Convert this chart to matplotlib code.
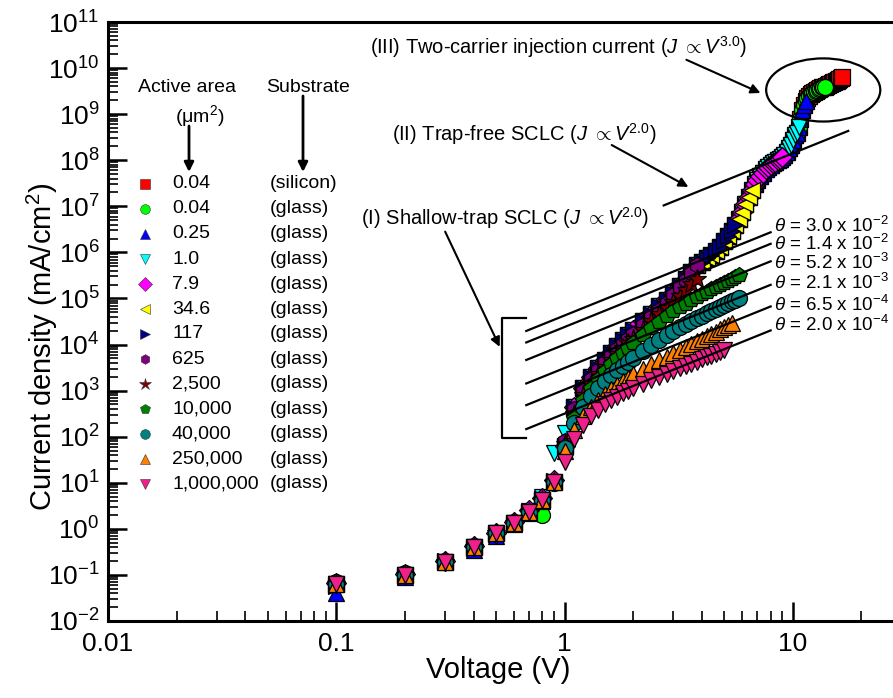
import numpy as np
import matplotlib
matplotlib.use("Agg")
import matplotlib.pyplot as plt
from matplotlib.patches import Ellipse
from matplotlib.ticker import LogLocator, FuncFormatter, NullFormatter

plt.rcParams['font.family'] = ['Liberation Sans', 'DejaVu Sans']
plt.rcParams['mathtext.fontset'] = 'custom'
plt.rcParams['mathtext.rm'] = 'Liberation Sans'
plt.rcParams['mathtext.it'] = 'Liberation Sans:italic'
plt.rcParams['mathtext.bf'] = 'Liberation Sans:bold'

# ---------------- data ----------------
V_grid = [0.1, 0.2, 0.3, 0.4, 0.5, 0.6, 0.7, 0.8, 0.9, 1.0,
          1.1, 1.2, 1.3, 1.4, 1.5, 1.6, 1.7, 1.8, 1.9, 2.0,
          2.2, 2.4, 2.6, 2.8, 3.0, 3.2, 3.4, 3.6, 3.8, 4.0,
          4.2, 4.4, 4.6, 4.8, 5.0, 5.2, 5.4, 5.6, 5.8, 6.0,
          6.2, 6.4, 6.6, 6.8, 7.0, 7.2, 7.4, 7.6, 7.8, 8.0,
          8.2, 8.4, 8.6, 8.8, 9.0, 9.2, 9.4, 9.6, 9.8, 10.0,
          10.2, 10.4, 10.6, 10.8, 11.0, 11.2, 11.4, 11.6, 11.8, 12.0,
          12.2, 12.4, 12.6, 12.8, 13.0, 13.2, 13.4, 13.6, 13.8, 14.0,
          14.2, 14.4, 14.6, 14.8, 15.0, 15.2, 15.4, 15.6, 15.8, 16.0,
          16.2, 16.4]

# log10(J) of the common upper branch from 1.1 V upward (small-area devices overlap here)
logJ_envelope = [2.65, 3.05, 3.3, 3.5, 3.67, 3.82, 3.96, 4.09, 4.2, 4.31,
                 4.5, 4.67, 4.83, 4.97, 5.12, 5.28, 5.43, 5.58, 5.72, 5.8,
                 5.87, 5.94, 6.02, 6.12, 6.24, 6.36, 6.47, 6.59, 6.72, 6.88,
                 7.05, 7.2, 7.35, 7.48, 7.58, 7.66, 7.73, 7.8, 7.85, 7.9,
                 7.94, 7.97, 8.0, 8.03, 8.06, 8.12, 8.18, 8.26, 8.34, 8.44,
                 8.55, 8.6, 8.72, 8.9, 9.1, 9.2, 9.28, 9.34, 9.39, 9.43,
                 9.46, 9.49, 9.51, 9.53, 9.55, 9.57, 9.58, 9.59, 9.6, 9.62,
                 9.63, 9.65, 9.66, 9.67, 9.69, 9.7, 9.72, 9.73, 9.75, 9.76,
                 9.78, 9.8]

# small-area devices: values 0.1-1.0 V, then the common branch up to V_max
low_red = [-1.2, -1.0, -0.72, -0.4, -0.1, 0.12, 0.36, 0.62, 1.02, 1.8]
low_green = [-1.15, -0.95, -0.7, -0.38, -0.08, 0.15, 0.38, 0.3, 1.0, 1.75]
low_blue = [-1.4, -1.05, -0.68, -0.45, -0.15, 0.1, 0.34, 0.6, 1.05, 1.85]
low_cyan = [-1.2, -1.0, -0.72, -0.4, -0.1, 0.12, 0.38, 0.7, 1.65, 2.08]
low_magenta = [-1.18, -0.98, -0.7, -0.38, -0.08, 0.14, 0.4, 0.66, 1.05, 1.8]
low_yellow = [-1.2, -1.0, -0.72, -0.4, -0.1, 0.12, 0.36, 0.62, 1.02, 1.8]
low_navy = [-1.25, -1.02, -0.7, -0.42, -0.12, 0.1, 0.36, 0.64, 1.04, 1.8]
vmax_small = [16.4, 13.8, 11.4, 10.6, 9.0, 6.6, 5.6]

# large-area devices: shared 0.1-0.9 V values, then own values from 1.0 V
low_large = [-1.2, -1.0, -0.72, -0.4, -0.1, 0.12, 0.36, 0.62, 1.02]
high_purple = [1.9, 2.6, 3.0, 3.25, 3.45, 3.62, 3.77, 3.9, 4.02, 4.13, 4.23,
               4.42, 4.6, 4.76, 4.91, 5.08, 5.25, 5.4, 5.55, 5.72]
high_star = [1.85, 2.5, 2.9, 3.15, 3.35, 3.52, 3.67, 3.8, 3.92, 4.03, 4.13,
             4.32, 4.5, 4.66, 4.8, 4.93, 5.06, 5.19, 5.31, 5.43]
high_pent = [1.8, 2.4, 2.8, 3.05, 3.25, 3.42, 3.57, 3.7, 3.82, 3.93, 4.03,
             4.2, 4.35, 4.49, 4.61, 4.72, 4.81, 4.89, 4.96, 5.03, 5.09, 5.15,
             5.2, 5.25, 5.3, 5.34, 5.38, 5.42, 5.46, 5.5]
high_teal = [1.75, 2.3, 2.65, 2.88, 3.06, 3.2, 3.33, 3.44, 3.54, 3.63, 3.71,
             3.86, 3.99, 4.1, 4.2, 4.29, 4.37, 4.44, 4.51, 4.57, 4.63, 4.68,
             4.73, 4.78, 4.82, 4.86, 4.9, 4.94, 4.97, 5.0]
high_orange = [1.7, 2.15, 2.45, 2.65, 2.8, 2.93, 3.04, 3.13, 3.21, 3.28, 3.35,
               3.47, 3.57, 3.66, 3.74, 3.82, 3.89, 3.95, 4.01, 4.07, 4.13,
               4.18, 4.23, 4.28, 4.33, 4.38, 4.42, 4.46]
high_pink = [1.45, 1.95, 2.25, 2.45, 2.59, 2.7, 2.79, 2.87, 2.94, 3.0, 3.05,
             3.14, 3.22, 3.29, 3.36, 3.42, 3.48, 3.53, 3.58, 3.63, 3.68, 3.72,
             3.76, 3.8, 3.84, 3.88]

area_labels = ['0.04', '0.04', '0.25', '1.0', '7.9', '34.6', '117', '625',
               '2,500', '10,000', '40,000', '250,000', '1,000,000']
substrate_labels = ['(silicon)'] + ['(glass)'] * 12
markers = ['s', 'o', '^', 'v', 'D', '<', '>', 'h', '*', 'p', 'o', '^', 'v']
colors = ['#ff0000', '#00ff00', '#0000ff', '#00ffff', '#ff00ff', '#ffff00',
          '#000080', '#800080', '#800000', '#008000', '#008080', '#ff8000',
          '#f0208a']

# shallow-trap fits J = c V^2: log10(c) and theta labels
theta_logc = [4.63, 4.38, 4.0, 3.49, 3.02, 2.5]
theta_text = ['3.0 x 10$^{-2}$', '1.4 x 10$^{-2}$', '5.2 x 10$^{-3}$',
              '2.1 x 10$^{-3}$', '6.5 x 10$^{-4}$', '2.0 x 10$^{-4}$']
theta_label_logJ = [6.575, 6.18, 5.77, 5.34, 4.86, 4.43]
theta_V_range = [0.68, 8.0]
trapfree_logc = 6.15
trapfree_V_range = [2.72, 17.5]

# ---------------- build series ----------------
series = []
small_lows = [low_red, low_green, low_blue, low_cyan, low_magenta, low_yellow, low_navy]
for low, vmax in zip(small_lows, vmax_small):
    n = V_grid.index(vmax) + 1
    lj = low + logJ_envelope[:n - 10]
    series.append((V_grid[:n], lj))
for high in [high_purple, high_star, high_pent, high_teal, high_orange, high_pink]:
    lj = low_large + high
    series.append((V_grid[:len(lj)], lj))

# ---------------- figure ----------------
W, H = 893, 698
fig = plt.figure(figsize=(W / 100, H / 100), dpi=100)
ax = fig.add_axes([108 / W, 77 / H, 913 / W, 599 / H])
ax.set_xscale('log')
ax.set_yscale('log')
ax.set_xlim(0.01, 100)
ax.set_ylim(1e-2, 1e11)

for (v, lj), m, c in zip(series, markers, colors):
    ms = 14 if m == '*' else (10 if m == 'D' else 11.5)
    ax.plot(v, 10 ** np.array(lj), linestyle='none', marker=m, ms=ms,
            mfc=c, mec='black', mew=0.9, zorder=3)

# shallow-trap lines and labels
tv = np.array(theta_V_range)
for lc, txt, ly in zip(theta_logc, theta_text, theta_label_logJ):
    ax.plot(tv, 10 ** lc * tv ** 2, color='black', lw=1.6, zorder=4)
    ax.text(8.3, 10 ** ly, r'$\theta$' + ' = ' + txt, fontsize=13.5,
            va='center', ha='left', clip_on=False)

# trap-free line
fv = np.array(trapfree_V_range)
ax.plot(fv, 10 ** trapfree_logc * fv ** 2, color='black', lw=1.6, zorder=4)

# bracket for (I)
bx0, bx1 = 0.53, 0.675
by0, by1 = 10 ** 1.98, 10 ** 4.58
ax.plot([bx1, bx0, bx0, bx1], [by1, by1, by0, by0], color='black', lw=1.6)

arrow = dict(arrowstyle='-|>', color='black', lw=1.5, mutation_scale=14,
             shrinkA=0, shrinkB=0)
fs_ann = 14.5
ax.text(0.141, 10 ** 10.46, '(III) Two-carrier injection current ($J$ $\\propto$$V^{3.0}$)',
        fontsize=fs_ann, va='center', ha='left')
ax.annotate('', xy=(7.22, 10 ** 9.46), xytext=(3.42, 10 ** 10.18), arrowprops=arrow)
ax.text(0.175, 10 ** 8.57, '(II) Trap-free SCLC ($J$ $\\propto$$V^{2.0}$)',
        fontsize=fs_ann, va='center', ha='left')
ax.annotate('', xy=(3.49, 10 ** 7.42), xytext=(1.61, 10 ** 8.33), arrowprops=arrow)
ax.text(0.129, 10 ** 6.75, '(I) Shallow-trap SCLC ($J$ $\\propto$$V^{2.0}$)',
        fontsize=fs_ann, va='center', ha='left')
ax.annotate('', xy=(0.52, 10 ** 3.95), xytext=(0.3, 10 ** 6.45), arrowprops=arrow)

# ellipse around the two-carrier region (size given in decades)
e_V, e_logJ, e_wdec, e_hdec = 13.6, 9.525, 0.5, 1.37
lx0, lx1 = np.log10(ax.get_xlim())
ly0, ly1 = np.log10(ax.get_ylim())
ax.add_patch(Ellipse(((np.log10(e_V) - lx0) / (lx1 - lx0), (e_logJ - ly0) / (ly1 - ly0)),
                     e_wdec / (lx1 - lx0), e_hdec / (ly1 - ly0),
                     transform=ax.transAxes, fill=False, ec='black', lw=1.6, zorder=5))

# axes styling
ax.spines['right'].set_visible(False)
for s in ['left', 'bottom', 'top']:
    ax.spines[s].set_linewidth(2.2)
ax.xaxis.set_major_locator(LogLocator(base=10, numticks=10))
ax.xaxis.set_minor_locator(LogLocator(base=10, subs=np.arange(2, 10), numticks=50))
ax.xaxis.set_major_formatter(FuncFormatter(lambda x, p: '%g' % x if x < 50 else ''))
ax.xaxis.set_minor_formatter(NullFormatter())
ax.yaxis.set_major_locator(LogLocator(base=10, numticks=20))
ax.yaxis.set_minor_locator(LogLocator(base=10, subs=np.arange(2, 10), numticks=100))
ax.yaxis.set_minor_formatter(NullFormatter())
ax.tick_params(which='both', direction='in', top=False, right=False)
ax.tick_params(which='major', length=14, width=1.8, labelsize=19)
ax.tick_params(which='minor', length=7, width=1.2)
ax.tick_params(axis='y', which='major', pad=6)
ax.tick_params(axis='x', which='major', pad=8)
ax.set_xlabel('Voltage (V)', fontsize=21)
ax.set_ylabel('Current density (mA/cm$^2$)', fontsize=21)
ax.xaxis.set_label_coords((498 - 108) / 913, (621 - 670) / 599)
ax.yaxis.set_label_coords((42 - 108) / 913, (621 - 347) / 599)
ax.xaxis.label.set_va('center')
ax.yaxis.label.set_va('center')

# legend drawn as a table: marker | active area | substrate
def fx(px):
    return px / W

def fy(py):
    return 1 - py / H

fig.text(fx(187), fy(87), 'Active area', fontsize=14, ha='center', va='center')
fig.text(fx(200), fy(116), '(\u03bcm$^2$)', fontsize=14, ha='center', va='center')
fig.text(fx(308), fy(87), 'Substrate', fontsize=14, ha='center', va='center')
fig_arrow = dict(arrowstyle='-|>', color='black', lw=2, mutation_scale=14,
                 shrinkA=0, shrinkB=0)
ax.annotate('', xy=(fx(189), fy(172)), xytext=(fx(189), fy(126)),
            xycoords='figure fraction', textcoords='figure fraction', arrowprops=fig_arrow)
ax.annotate('', xy=(fx(303), fy(172)), xytext=(fx(303), fy(96)),
            xycoords='figure fraction', textcoords='figure fraction', arrowprops=fig_arrow)
row0, drow = 184, 25.0
for i, (a, s, m, c) in enumerate(zip(area_labels, substrate_labels, markers, colors)):
    y = fy(row0 + i * drow)
    ax.plot([fx(145)], [y], marker=m, ms=7 if m != '*' else 9, mfc=c, mec='#333333',
            mew=0.4, transform=fig.transFigure, clip_on=False, linestyle='none')
    fig.text(fx(172), y, a, fontsize=14, ha='left', va='center')
    fig.text(fx(270), y, s, fontsize=14, ha='left', va='center')

fig.savefig('out.png', dpi=100)
